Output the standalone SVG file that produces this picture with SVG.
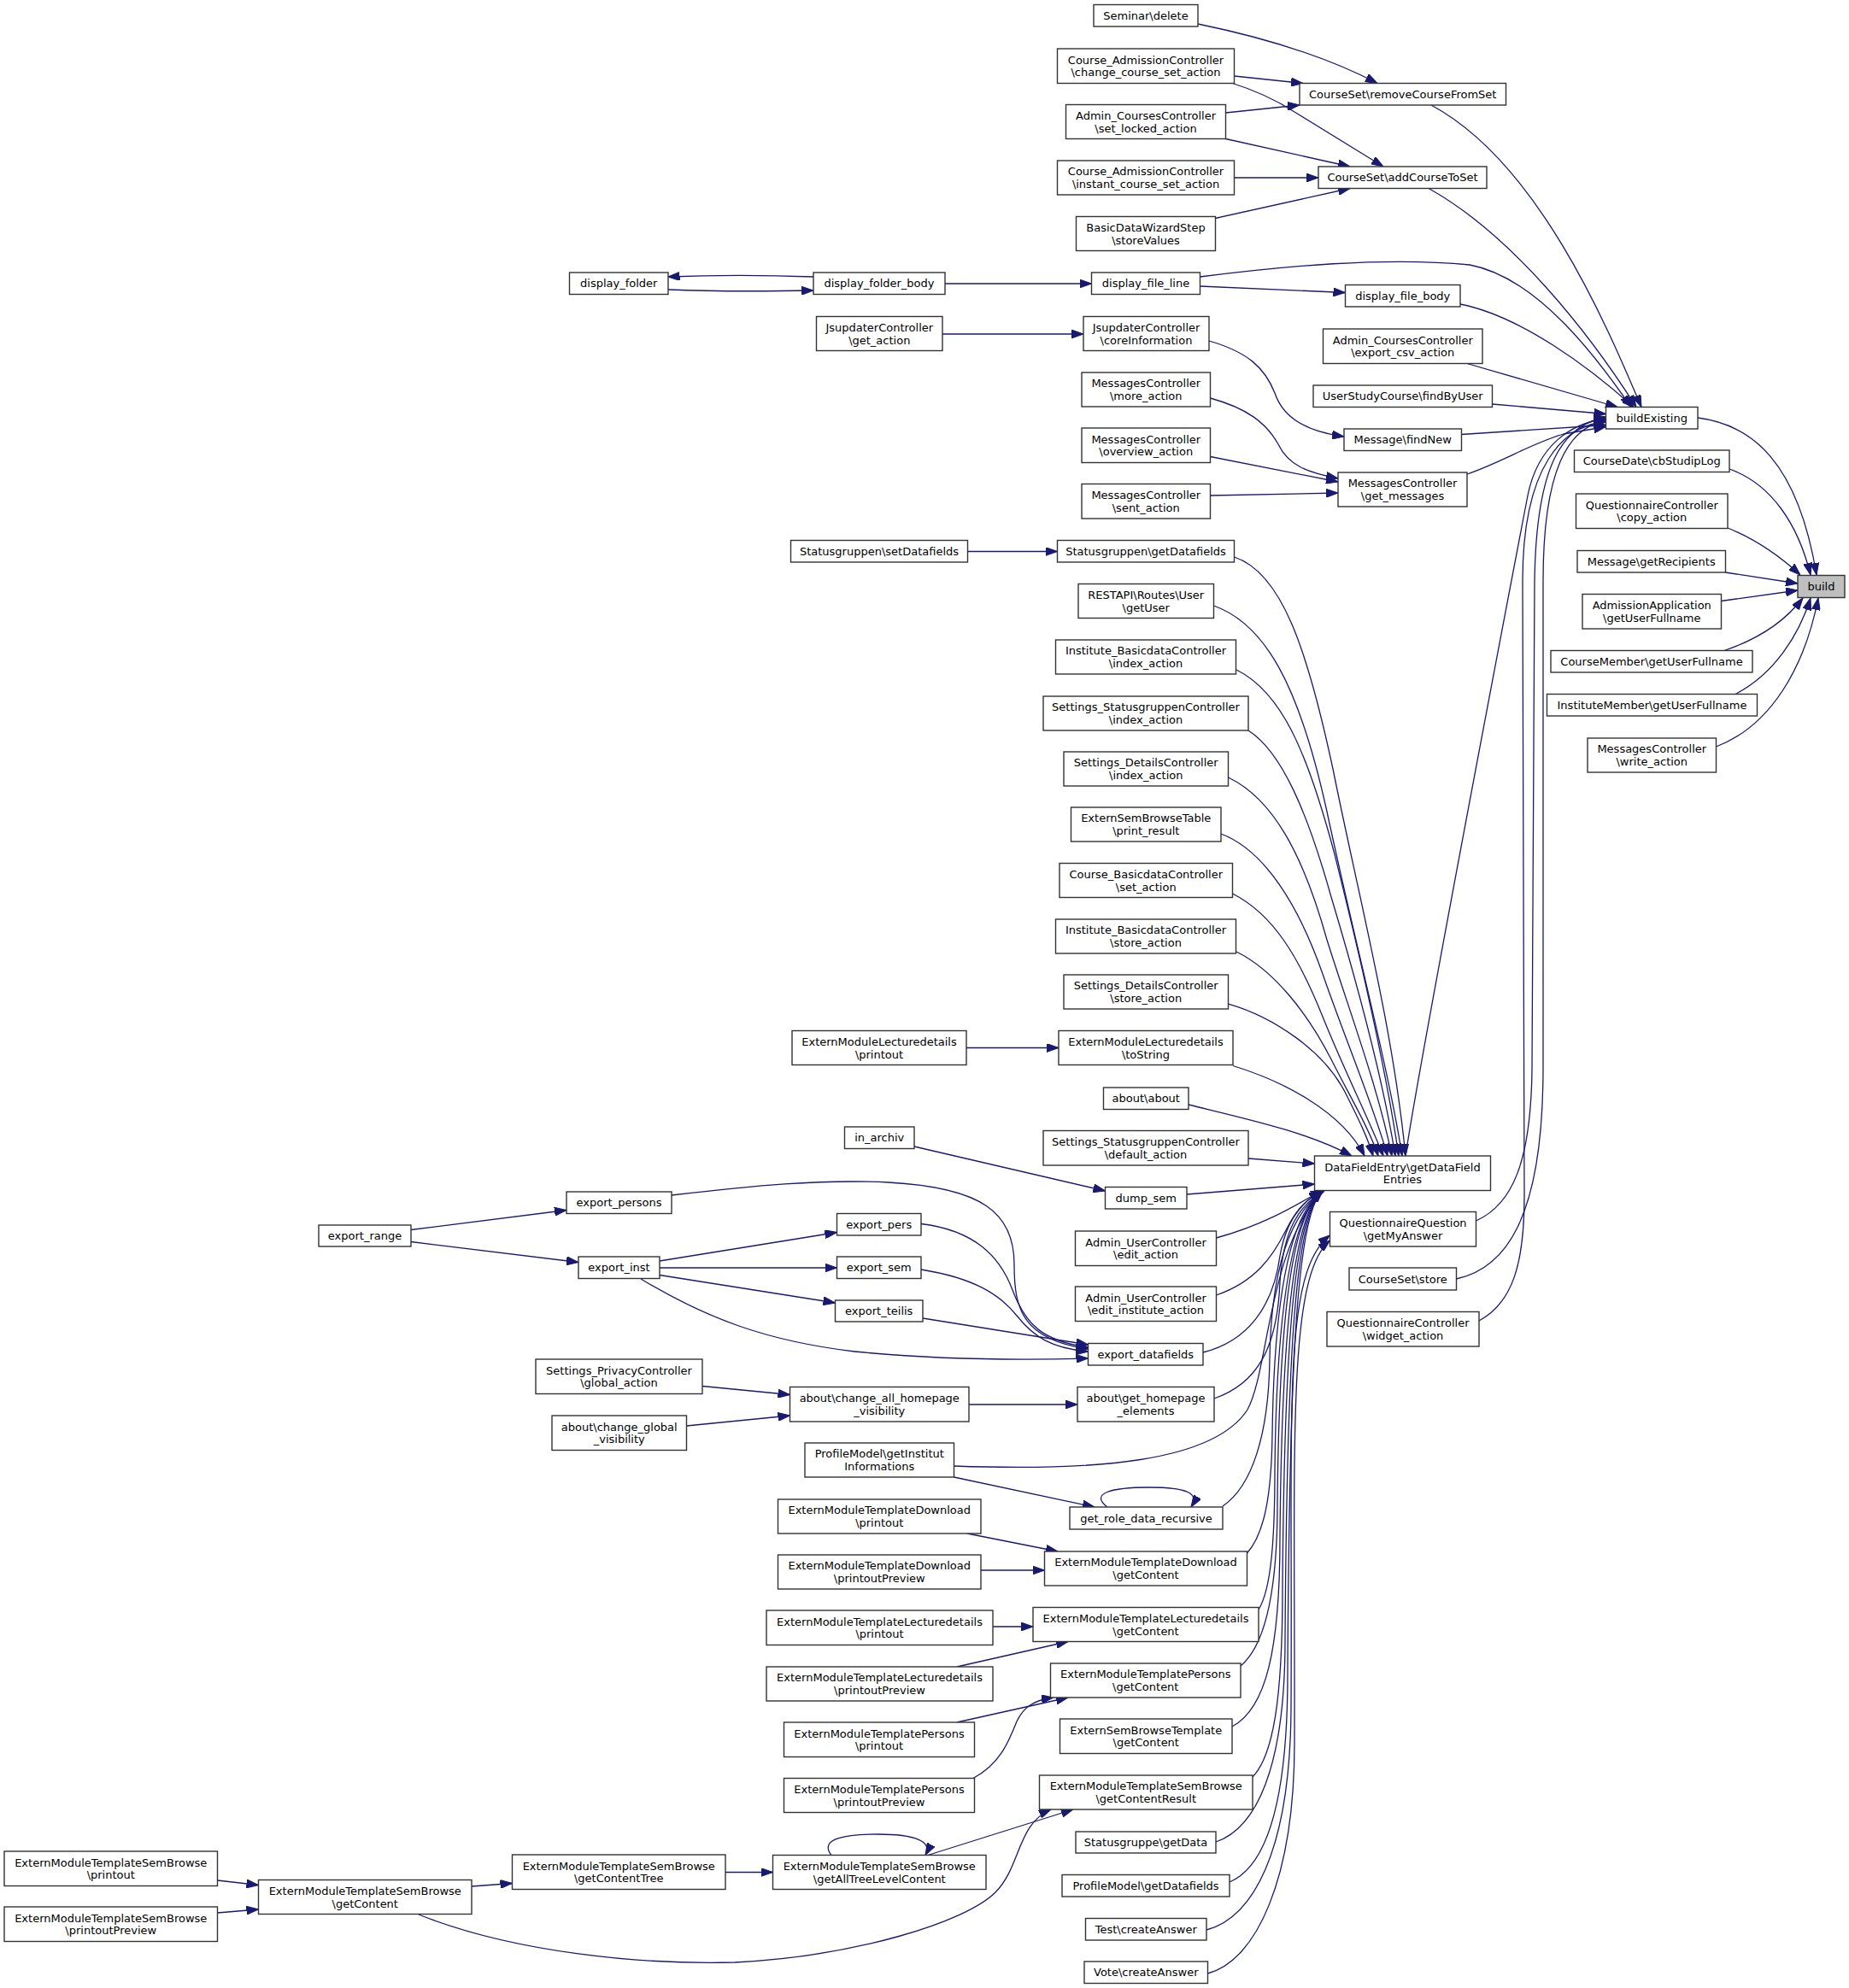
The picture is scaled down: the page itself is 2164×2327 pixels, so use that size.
<svg xmlns="http://www.w3.org/2000/svg" width="2164" height="2327" viewBox="0 0 2164 2327">
<style>
.n{fill:#ffffff;stroke:#333333;stroke-width:1.4}
.h{fill:#bfbfbf;stroke:#333333;stroke-width:1.4}
text{font-family:"DejaVu Sans","Liberation Sans",sans-serif;font-size:13px;fill:#000;text-anchor:middle}
.e{fill:none;stroke:#191970;stroke-width:1.3;marker-end:url(#arr)}
</style>
<defs>
<marker id="arr" viewBox="0 0 14 10" refX="14" refY="5" markerWidth="14" markerHeight="10" markerUnits="userSpaceOnUse" orient="auto">
<path d="M0,0 L14,5 L0,10 z" fill="#191970" stroke="#191970" stroke-width="1"/>
</marker>
</defs>
<rect width="2164" height="2327" fill="#ffffff"/>
<g id="edges">
<path class="e" d="M1987,489 C2050,497 2104,540 2126,673"/>
<path class="e" d="M2024,549 C2072,566 2104,612 2119,673"/>
<path class="e" d="M2022,618 C2052,630 2082,650 2107,673"/>
<path class="e" d="M2019.5,670 L2104,683"/>
<path class="e" d="M2014.5,703.5 L2104,691"/>
<path class="e" d="M2018,761.5 C2058,748 2090,726 2110,700"/>
<path class="e" d="M2031,812.5 C2075,790 2105,745 2119,700"/>
<path class="e" d="M2008.5,874 C2072,850 2112,782 2128,700"/>
<path class="e" d="M1675,123 C1800,190 1880,380 1921,476.5"/>
<path class="e" d="M1672,220.5 C1770,275 1860,390 1915,476.5"/>
<path class="e" d="M1404.5,324 C1500,312 1620,300 1720,310 C1800,325 1870,420 1909,476.5"/>
<path class="e" d="M1709,356 C1780,370 1860,430 1912,476.5"/>
<path class="e" d="M1717,425.5 L1893,476.5"/>
<path class="e" d="M1746.5,473 L1879.5,484.5"/>
<path class="e" d="M1710.5,508.5 L1879.5,497.5"/>
<path class="e" d="M1717,555 C1760,540 1790,520 1830,508 L1879.5,499.5"/>
<path class="e" d="M1645,1353 C1660,1250 1765,700 1788,580 C1800,520 1840,495 1879.5,490"/>
<path class="e" d="M1727.5,1429 C1770,1410 1792,1360 1793,1250 L1796,680 C1798,540 1830,498 1879.5,488"/>
<path class="e" d="M1704.5,1497 C1760,1485 1806,1430 1806,1250 L1806,680 C1806,550 1835,500 1879.5,492"/>
<path class="e" d="M1731,1546 C1770,1525 1784,1480 1784,1400 L1782,680 C1782,545 1830,497 1879.5,494"/>
<path class="e" d="M1402,28 C1470,42 1550,65 1612,97.5"/>
<path class="e" d="M1444.5,89 L1525,97.5"/>
<path class="e" d="M1434.5,132 L1521,123"/>
<path class="e" d="M1441,97 C1470,106 1495,118 1515,131 L1619,195"/>
<path class="e" d="M1434.5,162.5 L1580,195"/>
<path class="e" d="M1444.5,208 L1543,208"/>
<path class="e" d="M1422.5,255.5 L1580,220.5"/>
<path class="e" d="M1106,332 L1277.5,332"/>
<path class="e" d="M1404.5,335 L1574.5,342.5"/>
<path class="e" d="M952,324 C900,322 830,322 781.5,324"/>
<path class="e" d="M782,339 C830,341 900,341 952,340"/>
<path class="e" d="M1103,391 L1268,391"/>
<path class="e" d="M1415,399 C1460,412 1480,430 1492,460 C1502,490 1530,505 1573,511"/>
<path class="e" d="M1416.5,466 C1460,478 1482,495 1496,520 C1508,545 1530,553 1566,560"/>
<path class="e" d="M1416.5,534.5 L1566,564"/>
<path class="e" d="M1416.5,580 L1566,577"/>
<path class="e" d="M1132.5,645.5 L1237.5,645.5"/>
<path class="e" d="M1131,1226.5 L1239,1226.5"/>
<path class="e" d="M1070,1342 L1293.5,1394"/>
<path class="e" d="M481,1439.5 L663,1416.5"/>
<path class="e" d="M481,1453.5 L677,1477.5"/>
<path class="e" d="M772,1476 L979.5,1442.5"/>
<path class="e" d="M772,1484 L979.5,1484"/>
<path class="e" d="M772,1492.5 L977.5,1525"/>
<path class="e" d="M750,1497 C830,1545 900,1570 1000,1582 C1100,1592 1200,1592 1273.5,1590"/>
<path class="e" d="M786,1399 C880,1388 960,1380 1040,1384 C1150,1390 1187,1420 1187,1480 C1187,1530 1195,1568 1273.5,1579"/>
<path class="e" d="M1078,1432.5 C1140,1440 1170,1470 1185,1510 C1200,1550 1220,1570 1273.5,1577"/>
<path class="e" d="M1078,1486 C1140,1496 1170,1515 1190,1540 C1210,1565 1230,1578 1273.5,1582"/>
<path class="e" d="M1080,1543 L1273.5,1574"/>
<path class="e" d="M822,1622.5 L924.5,1632.5"/>
<path class="e" d="M803.5,1669 L924.5,1657"/>
<path class="e" d="M1134,1644 L1261,1644"/>
<path class="e" d="M1116.5,1729 L1281,1764"/>
<path class="e" d="M1296,1764 C1275,1748 1300,1741 1345,1741 C1390,1741 1404,1748 1394,1764"/>
<path class="e" d="M1132,1795 L1238,1816"/>
<path class="e" d="M1148,1838 L1222.5,1838"/>
<path class="e" d="M1162,1904 L1209,1904"/>
<path class="e" d="M1120,1951 L1250,1921.5"/>
<path class="e" d="M1120,2016 L1250,1987"/>
<path class="e" d="M1139,2081.5 C1170,2065 1180,2040 1190,2015 C1198,1998 1210,1990 1233,1987"/>
<path class="e" d="M1086,2171.5 L1256,2118"/>
<path class="e" d="M973,2171.5 C958,2152 990,2147 1028,2147 C1070,2147 1092,2155 1083,2171.5"/>
<path class="e" d="M490,2241 C600,2285 750,2300 860,2297 C1000,2290 1130,2250 1165,2215 C1195,2185 1190,2135 1230,2118"/>
<path class="e" d="M849,2191.5 L904.5,2191.5"/>
<path class="e" d="M552,2208 L599.5,2204.5"/>
<path class="e" d="M254.5,2201 L302.5,2206.5"/>
<path class="e" d="M254.5,2239 L302.5,2235"/>
<path class="e" d="M1444.5,652 C1500,670 1530,760 1560,900 C1590,1050 1630,1200 1645,1353"/>
<path class="e" d="M1420.5,709 C1480,730 1520,800 1553,950 C1585,1100 1625,1250 1641,1353"/>
<path class="e" d="M1447,784 C1500,810 1530,880 1562,1000 C1592,1120 1622,1250 1637,1353"/>
<path class="e" d="M1461,855 C1500,880 1530,950 1558,1050 C1588,1150 1618,1260 1633,1353"/>
<path class="e" d="M1437.5,910 C1490,935 1525,1000 1553,1100 C1578,1180 1612,1270 1629,1353"/>
<path class="e" d="M1429,976 C1480,995 1520,1060 1548,1140 C1572,1210 1606,1290 1624,1353"/>
<path class="e" d="M1442.5,1046 C1490,1070 1520,1120 1548,1190 C1572,1250 1602,1310 1619,1353"/>
<path class="e" d="M1447,1114 C1490,1135 1530,1185 1558,1240 C1578,1280 1602,1320 1613,1353"/>
<path class="e" d="M1437.5,1175 C1490,1190 1550,1230 1575,1280 C1590,1310 1600,1330 1607,1353"/>
<path class="e" d="M1443,1247.5 C1500,1265 1570,1300 1597,1353"/>
<path class="e" d="M1391,1293 C1460,1310 1530,1325 1582,1353"/>
<path class="e" d="M1461,1356 L1538.5,1362"/>
<path class="e" d="M1389,1398 L1538.5,1386"/>
<path class="e" d="M1423.5,1449 C1475,1435 1510,1415 1546,1394"/>
<path class="e" d="M1423.5,1516 C1470,1500 1490,1470 1505,1440 C1515,1420 1528,1402 1548,1394"/>
<path class="e" d="M1408,1583 C1460,1570 1490,1530 1498,1470 C1505,1430 1522,1405 1550,1394"/>
<path class="e" d="M1421,1637 C1470,1620 1495,1580 1498,1500 C1502,1440 1520,1410 1550,1394"/>
<path class="e" d="M1116.5,1716 C1280,1722 1420,1712 1460,1650 C1485,1605 1484,1460 1548,1394"/>
<path class="e" d="M1431,1763 C1465,1740 1485,1680 1486,1590 C1488,1480 1512,1420 1548,1394"/>
<path class="e" d="M1459.5,1818 C1480,1795 1488,1750 1489,1680 C1491,1520 1510,1420 1548,1394"/>
<path class="e" d="M1473,1884 C1488,1860 1492,1800 1492,1720 C1494,1530 1512,1420 1548,1394"/>
<path class="e" d="M1452,1950 C1482,1925 1495,1860 1495,1760 C1497,1540 1512,1420 1548,1394"/>
<path class="e" d="M1442,2021 C1482,2000 1498,1930 1498,1800 C1500,1560 1514,1420 1548,1394"/>
<path class="e" d="M1466,2080 C1490,2055 1501,1990 1501,1860 C1503,1580 1514,1420 1548,1394"/>
<path class="e" d="M1423,2156 C1470,2140 1504,2070 1504,1920 C1506,1600 1515,1420 1548,1394"/>
<path class="e" d="M1439,2203 C1482,2185 1507,2110 1507,1960 C1509,1620 1516,1420 1548,1394"/>
<path class="e" d="M1412,2259 C1465,2245 1510,2170 1511,2000 C1513,1650 1500,1490 1556.5,1446"/>
<path class="e" d="M1413.5,2310 C1470,2295 1515,2200 1515,2040 C1516,1700 1505,1495 1556.5,1452"/>
</g>
<g id="build"><rect class="h" x="2104" y="673.5" width="55" height="26"/><text x="2131.5" y="691.1">build</text></g>
<g id="buildExisting"><rect class="n" x="1879.5" y="476.5" width="107.5" height="25.5"/><text x="1933.25" y="493.9">buildExisting</text></g>
<g id="cbStudipLog"><rect class="n" x="1842.5" y="527" width="181.5" height="25.5"/><text x="1933.25" y="544.4">CourseDate\cbStudipLog</text></g>
<g id="copy_action"><rect class="n" x="1844.5" y="578" width="177.5" height="40.5"/><text x="1933.25" y="595.5">QuestionnaireController</text><text x="1933.25" y="610.3">\copy_action</text></g>
<g id="getRecipients"><rect class="n" x="1846" y="644.5" width="173.5" height="25.5"/><text x="1932.75" y="661.9">Message\getRecipients</text></g>
<g id="admission_getUserFullname"><rect class="n" x="1852" y="695.5" width="162.5" height="40.5"/><text x="1933.25" y="713">AdmissionApplication</text><text x="1933.25" y="727.8">\getUserFullname</text></g>
<g id="coursemember_getUserFullname"><rect class="n" x="1815" y="761.5" width="236" height="25.5"/><text x="1933" y="778.9">CourseMember\getUserFullname</text></g>
<g id="institutemember_getUserFullname"><rect class="n" x="1810.5" y="812.5" width="246" height="25.5"/><text x="1933.5" y="829.9">InstituteMember\getUserFullname</text></g>
<g id="write_action"><rect class="n" x="1858" y="864" width="150.5" height="40"/><text x="1933.25" y="881.2">MessagesController</text><text x="1933.25" y="896">\write_action</text></g>
<g id="removeCourseFromSet"><rect class="n" x="1521" y="97.5" width="241.5" height="25.5"/><text x="1641.75" y="114.9">CourseSet\removeCourseFromSet</text></g>
<g id="addCourseToSet"><rect class="n" x="1543" y="195" width="197" height="25.5"/><text x="1641.5" y="212.4">CourseSet\addCourseToSet</text></g>
<g id="display_file_body"><rect class="n" x="1574.5" y="333.5" width="134.5" height="25.5"/><text x="1641.75" y="350.9">display_file_body</text></g>
<g id="export_csv_action"><rect class="n" x="1548.5" y="385" width="186.5" height="40.5"/><text x="1641.75" y="402.5">Admin_CoursesController</text><text x="1641.75" y="417.3">\export_csv_action</text></g>
<g id="findByUser"><rect class="n" x="1537" y="451" width="209.5" height="25.5"/><text x="1641.75" y="468.4">UserStudyCourse\findByUser</text></g>
<g id="findNew"><rect class="n" x="1573" y="502" width="137.5" height="25.5"/><text x="1641.75" y="519.4">Message\findNew</text></g>
<g id="get_messages"><rect class="n" x="1566" y="553" width="151" height="40"/><text x="1641.5" y="570.2">MessagesController</text><text x="1641.5" y="585">\get_messages</text></g>
<g id="getDataFieldEntries"><rect class="n" x="1538.5" y="1353" width="206" height="40.5"/><text x="1641.5" y="1370.5">DataFieldEntry\getDataField</text><text x="1641.5" y="1385.3">Entries</text></g>
<g id="getMyAnswer"><rect class="n" x="1556.5" y="1418.5" width="171" height="40.5"/><text x="1642" y="1436">QuestionnaireQuestion</text><text x="1642" y="1450.8">\getMyAnswer</text></g>
<g id="courseset_store"><rect class="n" x="1579" y="1484" width="125.5" height="26"/><text x="1641.75" y="1501.6">CourseSet\store</text></g>
<g id="widget_action"><rect class="n" x="1553" y="1535.5" width="178" height="40.5"/><text x="1642" y="1553">QuestionnaireController</text><text x="1642" y="1567.8">\widget_action</text></g>
<g id="seminar_delete"><rect class="n" x="1280" y="5.5" width="122" height="25.5"/><text x="1341" y="22.9">Seminar\delete</text></g>
<g id="change_course_set_action"><rect class="n" x="1237.5" y="57" width="207" height="40.5"/><text x="1341" y="74.5">Course_AdmissionController</text><text x="1341" y="89.3">\change_course_set_action</text></g>
<g id="set_locked_action"><rect class="n" x="1247.5" y="122.5" width="187" height="40"/><text x="1341" y="139.7">Admin_CoursesController</text><text x="1341" y="154.5">\set_locked_action</text></g>
<g id="instant_course_set_action"><rect class="n" x="1237.5" y="188" width="207" height="40"/><text x="1341" y="205.2">Course_AdmissionController</text><text x="1341" y="220">\instant_course_set_action</text></g>
<g id="storeValues"><rect class="n" x="1259.5" y="253.5" width="163" height="40"/><text x="1341" y="270.7">BasicDataWizardStep</text><text x="1341" y="285.5">\storeValues</text></g>
<g id="display_file_line"><rect class="n" x="1277.5" y="319" width="127" height="25.5"/><text x="1341" y="336.4">display_file_line</text></g>
<g id="coreInformation"><rect class="n" x="1268" y="370.5" width="147" height="40"/><text x="1341.5" y="387.7">JsupdaterController</text><text x="1341.5" y="402.5">\coreInformation</text></g>
<g id="more_action"><rect class="n" x="1266" y="436" width="150.5" height="40"/><text x="1341.25" y="453.2">MessagesController</text><text x="1341.25" y="468">\more_action</text></g>
<g id="overview_action"><rect class="n" x="1266" y="501" width="150.5" height="40.5"/><text x="1341.25" y="518.5">MessagesController</text><text x="1341.25" y="533.3">\overview_action</text></g>
<g id="sent_action"><rect class="n" x="1266" y="566.5" width="150.5" height="40.5"/><text x="1341.25" y="584">MessagesController</text><text x="1341.25" y="598.8">\sent_action</text></g>
<g id="statusgruppen_getDatafields"><rect class="n" x="1237.5" y="632.5" width="207" height="25.5"/><text x="1341" y="649.9">Statusgruppen\getDatafields</text></g>
<g id="restapi_getUser"><rect class="n" x="1262" y="683.5" width="158.5" height="40"/><text x="1341.25" y="700.7">RESTAPI\Routes\User</text><text x="1341.25" y="715.5">\getUser</text></g>
<g id="institute_index_action"><rect class="n" x="1235.5" y="749" width="211" height="40"/><text x="1341" y="766.2">Institute_BasicdataController</text><text x="1341" y="781">\index_action</text></g>
<g id="settings_statusgruppen_index_action"><rect class="n" x="1221" y="815" width="240" height="40"/><text x="1341" y="832.2">Settings_StatusgruppenController</text><text x="1341" y="847">\index_action</text></g>
<g id="settings_details_index_action"><rect class="n" x="1245" y="880" width="192.5" height="40"/><text x="1341.25" y="897.2">Settings_DetailsController</text><text x="1341.25" y="912">\index_action</text></g>
<g id="print_result"><rect class="n" x="1253.5" y="945" width="175.5" height="40"/><text x="1341.25" y="962.2">ExternSemBrowseTable</text><text x="1341.25" y="977">\print_result</text></g>
<g id="set_action"><rect class="n" x="1240" y="1010.5" width="202.5" height="40"/><text x="1341.25" y="1027.7">Course_BasicdataController</text><text x="1341.25" y="1042.5">\set_action</text></g>
<g id="institute_store_action"><rect class="n" x="1235.5" y="1076" width="211" height="40"/><text x="1341" y="1093.2">Institute_BasicdataController</text><text x="1341" y="1108">\store_action</text></g>
<g id="settings_details_store_action"><rect class="n" x="1245" y="1141" width="192.5" height="40"/><text x="1341.25" y="1158.2">Settings_DetailsController</text><text x="1341.25" y="1173">\store_action</text></g>
<g id="lecturedetails_toString"><rect class="n" x="1239" y="1206.5" width="204" height="40"/><text x="1341" y="1223.7">ExternModuleLecturedetails</text><text x="1341" y="1238.5">\toString</text></g>
<g id="about_about"><rect class="n" x="1291.5" y="1273" width="99.5" height="25.5"/><text x="1341.25" y="1290.4">about\about</text></g>
<g id="default_action"><rect class="n" x="1221" y="1323.5" width="240" height="40.5"/><text x="1341" y="1341">Settings_StatusgruppenController</text><text x="1341" y="1355.8">\default_action</text></g>
<g id="dump_sem"><rect class="n" x="1293.5" y="1389.5" width="95.5" height="25.5"/><text x="1341.25" y="1406.9">dump_sem</text></g>
<g id="edit_action"><rect class="n" x="1258.5" y="1441" width="165" height="40.5"/><text x="1341" y="1458.5">Admin_UserController</text><text x="1341" y="1473.3">\edit_action</text></g>
<g id="edit_institute_action"><rect class="n" x="1258.5" y="1506" width="165" height="40.5"/><text x="1341" y="1523.5">Admin_UserController</text><text x="1341" y="1538.3">\edit_institute_action</text></g>
<g id="export_datafields"><rect class="n" x="1273.5" y="1572.5" width="134.5" height="25.5"/><text x="1340.75" y="1589.9">export_datafields</text></g>
<g id="get_homepage_elements"><rect class="n" x="1261" y="1623.5" width="160" height="40.5"/><text x="1341" y="1641">about\get_homepage</text><text x="1341" y="1655.8">_elements</text></g>
<g id="get_role_data_recursive"><rect class="n" x="1252" y="1764" width="179" height="26"/><text x="1341.5" y="1781.6">get_role_data_recursive</text></g>
<g id="download_getContent"><rect class="n" x="1222.5" y="1816" width="237" height="40"/><text x="1341" y="1833.2">ExternModuleTemplateDownload</text><text x="1341" y="1848">\getContent</text></g>
<g id="lecturedetails_getContent"><rect class="n" x="1209" y="1881.5" width="264" height="40"/><text x="1341" y="1898.7">ExternModuleTemplateLecturedetails</text><text x="1341" y="1913.5">\getContent</text></g>
<g id="persons_getContent"><rect class="n" x="1229.5" y="1947" width="222.5" height="40"/><text x="1340.75" y="1964.2">ExternModuleTemplatePersons</text><text x="1340.75" y="1979">\getContent</text></g>
<g id="externsembrowsetemplate_getContent"><rect class="n" x="1240.5" y="2012" width="201.5" height="40.5"/><text x="1341.25" y="2029.5">ExternSemBrowseTemplate</text><text x="1341.25" y="2044.3">\getContent</text></g>
<g id="getContentResult"><rect class="n" x="1216.5" y="2078" width="249.5" height="40"/><text x="1341.25" y="2095.2">ExternModuleTemplateSemBrowse</text><text x="1341.25" y="2110">\getContentResult</text></g>
<g id="statusgruppe_getData"><rect class="n" x="1259" y="2144" width="164" height="25"/><text x="1341" y="2161.1">Statusgruppe\getData</text></g>
<g id="profilemodel_getDatafields"><rect class="n" x="1243" y="2194.5" width="196" height="25.5"/><text x="1341" y="2211.9">ProfileModel\getDatafields</text></g>
<g id="test_createAnswer"><rect class="n" x="1270.5" y="2245.5" width="141.5" height="25.5"/><text x="1341.25" y="2262.9">Test\createAnswer</text></g>
<g id="vote_createAnswer"><rect class="n" x="1269" y="2296" width="144.5" height="25.5"/><text x="1341.25" y="2313.4">Vote\createAnswer</text></g>
<g id="display_folder_body"><rect class="n" x="952" y="319" width="154" height="25.5"/><text x="1029" y="336.4">display_folder_body</text></g>
<g id="jsupdater_get_action"><rect class="n" x="955.5" y="370.5" width="147.5" height="40"/><text x="1029.25" y="387.7">JsupdaterController</text><text x="1029.25" y="402.5">\get_action</text></g>
<g id="statusgruppen_setDatafields"><rect class="n" x="925.5" y="632.5" width="207" height="25.5"/><text x="1029" y="649.9">Statusgruppen\setDatafields</text></g>
<g id="lecturedetails_printout"><rect class="n" x="927" y="1206.5" width="204" height="40"/><text x="1029" y="1223.7">ExternModuleLecturedetails</text><text x="1029" y="1238.5">\printout</text></g>
<g id="in_archiv"><rect class="n" x="988.5" y="1319" width="81.5" height="25.5"/><text x="1029.25" y="1336.4">in_archiv</text></g>
<g id="export_pers"><rect class="n" x="979.5" y="1420.5" width="98.5" height="25.5"/><text x="1028.75" y="1437.9">export_pers</text></g>
<g id="export_sem"><rect class="n" x="979.5" y="1471" width="98.5" height="25.5"/><text x="1028.75" y="1488.4">export_sem</text></g>
<g id="export_teilis"><rect class="n" x="977.5" y="1522" width="102.5" height="25"/><text x="1028.75" y="1539.1">export_teilis</text></g>
<g id="change_all_homepage_visibility"><rect class="n" x="924.5" y="1623.5" width="209.5" height="40.5"/><text x="1029.25" y="1641">about\change_all_homepage</text><text x="1029.25" y="1655.8">_visibility</text></g>
<g id="getInstitutInformations"><rect class="n" x="942" y="1689" width="174.5" height="40"/><text x="1029.25" y="1706.2">ProfileModel\getInstitut</text><text x="1029.25" y="1721">Informations</text></g>
<g id="download_printout"><rect class="n" x="910.5" y="1755" width="237.5" height="40"/><text x="1029.25" y="1772.2">ExternModuleTemplateDownload</text><text x="1029.25" y="1787">\printout</text></g>
<g id="download_printoutPreview"><rect class="n" x="910.5" y="1820" width="237.5" height="40"/><text x="1029.25" y="1837.2">ExternModuleTemplateDownload</text><text x="1029.25" y="1852">\printoutPreview</text></g>
<g id="templatelecturedetails_printout"><rect class="n" x="897" y="1885" width="265" height="40.5"/><text x="1029.5" y="1902.5">ExternModuleTemplateLecturedetails</text><text x="1029.5" y="1917.3">\printout</text></g>
<g id="templatelecturedetails_printoutPreview"><rect class="n" x="897" y="1951" width="265" height="40"/><text x="1029.5" y="1968.2">ExternModuleTemplateLecturedetails</text><text x="1029.5" y="1983">\printoutPreview</text></g>
<g id="persons_printout"><rect class="n" x="917.5" y="2016" width="223" height="40.5"/><text x="1029" y="2033.5">ExternModuleTemplatePersons</text><text x="1029" y="2048.3">\printout</text></g>
<g id="persons_printoutPreview"><rect class="n" x="917.5" y="2081.5" width="223" height="40"/><text x="1029" y="2098.7">ExternModuleTemplatePersons</text><text x="1029" y="2113.5">\printoutPreview</text></g>
<g id="getAllTreeLevelContent"><rect class="n" x="904.5" y="2171.5" width="249.5" height="40"/><text x="1029.25" y="2188.7">ExternModuleTemplateSemBrowse</text><text x="1029.25" y="2203.5">\getAllTreeLevelContent</text></g>
<g id="display_folder"><rect class="n" x="666.5" y="319" width="115.5" height="25.5"/><text x="724.25" y="336.4">display_folder</text></g>
<g id="export_persons"><rect class="n" x="663" y="1395" width="123" height="25.5"/><text x="724.5" y="1412.4">export_persons</text></g>
<g id="export_inst"><rect class="n" x="677" y="1471" width="95" height="25.5"/><text x="724.5" y="1488.4">export_inst</text></g>
<g id="privacy_global_action"><rect class="n" x="627" y="1591" width="195" height="40.5"/><text x="724.5" y="1608.5">Settings_PrivacyController</text><text x="724.5" y="1623.3">\global_action</text></g>
<g id="change_global_visibility"><rect class="n" x="646" y="1657" width="157.5" height="40.5"/><text x="724.75" y="1674.5">about\change_global</text><text x="724.75" y="1689.3">_visibility</text></g>
<g id="getContentTree"><rect class="n" x="599.5" y="2171" width="249.5" height="40.5"/><text x="724.25" y="2188.5">ExternModuleTemplateSemBrowse</text><text x="724.25" y="2203.3">\getContentTree</text></g>
<g id="export_range"><rect class="n" x="373" y="1434" width="108" height="25"/><text x="427" y="1451.1">export_range</text></g>
<g id="sembrowse_getContent"><rect class="n" x="302.5" y="2200.5" width="249.5" height="40"/><text x="427.25" y="2217.7">ExternModuleTemplateSemBrowse</text><text x="427.25" y="2232.5">\getContent</text></g>
<g id="sembrowse_printout"><rect class="n" x="5" y="2167" width="249.5" height="40.5"/><text x="129.75" y="2184.5">ExternModuleTemplateSemBrowse</text><text x="129.75" y="2199.3">\printout</text></g>
<g id="sembrowse_printoutPreview"><rect class="n" x="5" y="2232" width="249.5" height="40.5"/><text x="129.75" y="2249.5">ExternModuleTemplateSemBrowse</text><text x="129.75" y="2264.3">\printoutPreview</text></g>
</svg>
